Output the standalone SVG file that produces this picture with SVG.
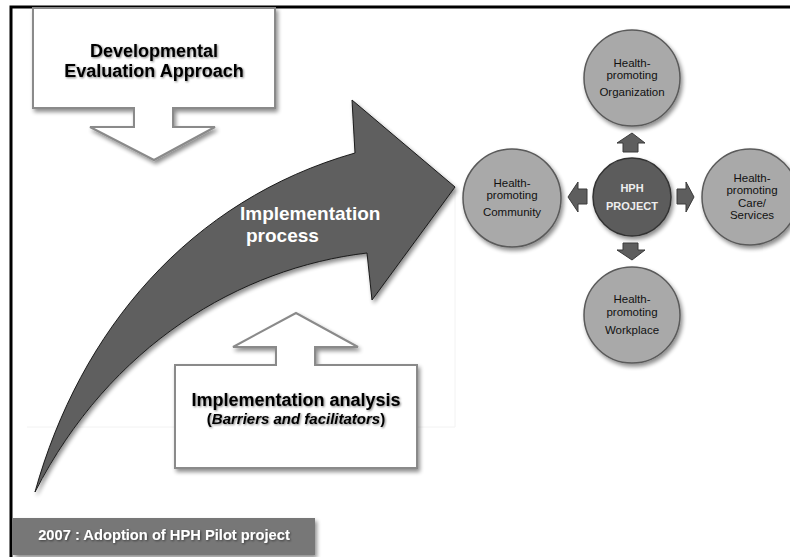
<svg xmlns="http://www.w3.org/2000/svg" width="790" height="557" viewBox="0 0 790 557">
<defs>
<filter id="sh" x="-20%" y="-20%" width="150%" height="150%">
<feGaussianBlur in="SourceAlpha" stdDeviation="2"/>
<feOffset dx="2" dy="3" result="b"/>
<feComponentTransfer><feFuncA type="linear" slope="0.45"/></feComponentTransfer>
<feMerge><feMergeNode/><feMergeNode in="SourceGraphic"/></feMerge>
</filter>
<filter id="tsh" x="-10%" y="-30%" width="120%" height="160%">
<feGaussianBlur in="SourceAlpha" stdDeviation="1.2"/>
<feOffset dx="1" dy="1"/>
<feComponentTransfer><feFuncA type="linear" slope="0.5"/></feComponentTransfer>
<feMerge><feMergeNode/><feMergeNode in="SourceGraphic"/></feMerge>
</filter>
</defs>
<style>
.callout{fill:#ffffff;stroke:#8a8a8a;stroke-width:2}
.big{fill:#000;font-family:"Liberation Sans",Arial,sans-serif;font-weight:bold;text-anchor:middle}
.circ{fill:#a9a9a9;stroke:#5a5a5a;stroke-width:1.5}
.ctext{fill:#111;font-family:"Liberation Sans",Arial,sans-serif;font-size:11.5px;text-anchor:middle}
.sarrow{fill:#5e5e5e;stroke:#3a3a3a;stroke-width:1}
</style>
<rect x="0" y="0" width="790" height="557" fill="#ffffff"/>
<path d="M11,557 V7 H790" fill="none" stroke="#000" stroke-width="3"/>
<path d="M455,187 V427 M27,427 H455" fill="none" stroke="#f2f2f2" stroke-width="1"/>

<g id="evaluation-approach">
<path class="callout" filter="url(#sh)" d="M33,8 H275 V108 H173 V127 H215 L154,160 L90,127 H134 V108 H33 Z"/>
<g filter="url(#tsh)">
<text class="big" x="154" y="57" font-size="18">Developmental</text>
<text class="big" x="154" y="77" font-size="18">Evaluation Approach</text>
</g>
</g>

<g id="implementation-process">
<path filter="url(#sh)" d="M35,492 C80,330 190,200 355,153 L352,100 L455,187 L372,300 L367,253 C240,268 110,345 35,492 Z" fill="#5f5f5f" stroke="#1a1a1a" stroke-width="1"/>
<text x="240" y="220" font-family="'Liberation Sans',Arial,sans-serif" font-weight="bold" font-size="19" fill="#ffffff">Implementation</text>
<text x="246" y="242" font-family="'Liberation Sans',Arial,sans-serif" font-weight="bold" font-size="19" fill="#ffffff">process</text>
</g>

<g id="implementation-analysis">
<path class="callout" filter="url(#sh)" d="M175,468 V365 H276 V347 H233 L296,313 L358,347 H315 V365 H417 V468 Z"/>
<g filter="url(#tsh)">
<text class="big" x="296" y="406" font-size="18">Implementation analysis</text>
<text class="big" x="296" y="424" font-size="15">(<tspan font-style="italic">Barriers and facilitators</tspan>)</text>
</g>
</g>

<g id="adoption-banner">
<rect x="13" y="518" width="302" height="37" fill="#777777" filter="url(#sh)"/>
<text x="164" y="540" font-family="'Liberation Sans',Arial,sans-serif" font-weight="bold" font-size="14.7" fill="#ffffff" text-anchor="middle" filter="url(#tsh)">2007 : Adoption of HPH Pilot project</text>
</g>

<g id="connectors">
<path class="sarrow" d="M632,133 L645,143 H638 V152 H623 V143 H617 Z"/>
<path class="sarrow" d="M632,260 L645,250 H638 V243 H623 V250 H617 Z"/>
<path class="sarrow" d="M568,197 L578,182 V189 H587 V204 H578 V212 Z"/>
<path class="sarrow" d="M694,197 L686,182 V189 H677 V204 H686 V212 Z"/>
</g>

<g id="organization">
<circle class="circ" cx="632" cy="78" r="48" filter="url(#sh)"/>
<text class="ctext" x="632" y="67">Health-</text>
<text class="ctext" x="632" y="79">promoting</text>
<text class="ctext" x="632" y="96">Organization</text>
</g>

<g id="community">
<circle class="circ" cx="512" cy="198" r="49" filter="url(#sh)"/>
<text class="ctext" x="512" y="187">Health-</text>
<text class="ctext" x="512" y="199">promoting</text>
<text class="ctext" x="512" y="216">Community</text>
</g>

<g id="hph-project">
<circle cx="632" cy="197" r="39" fill="#5c5c5c" stroke="#333" stroke-width="1.5" filter="url(#sh)"/>
<text x="632" y="192" font-family="'Liberation Sans',Arial,sans-serif" font-weight="bold" font-size="11" fill="#eeeeee" text-anchor="middle">HPH</text>
<text x="632" y="210" font-family="'Liberation Sans',Arial,sans-serif" font-weight="bold" font-size="11" fill="#eeeeee" text-anchor="middle">PROJECT</text>
</g>

<g id="care-services">
<circle class="circ" cx="750" cy="197" r="48" filter="url(#sh)"/>
<text class="ctext" x="752" y="182">Health-</text>
<text class="ctext" x="752" y="194">promoting</text>
<text class="ctext" x="752" y="207">Care/</text>
<text class="ctext" x="752" y="219">Services</text>
</g>

<g id="workplace">
<circle class="circ" cx="632" cy="315" r="48" filter="url(#sh)"/>
<text class="ctext" x="632" y="303">Health-</text>
<text class="ctext" x="632" y="316">promoting</text>
<text class="ctext" x="632" y="334">Workplace</text>
</g>
</svg>
